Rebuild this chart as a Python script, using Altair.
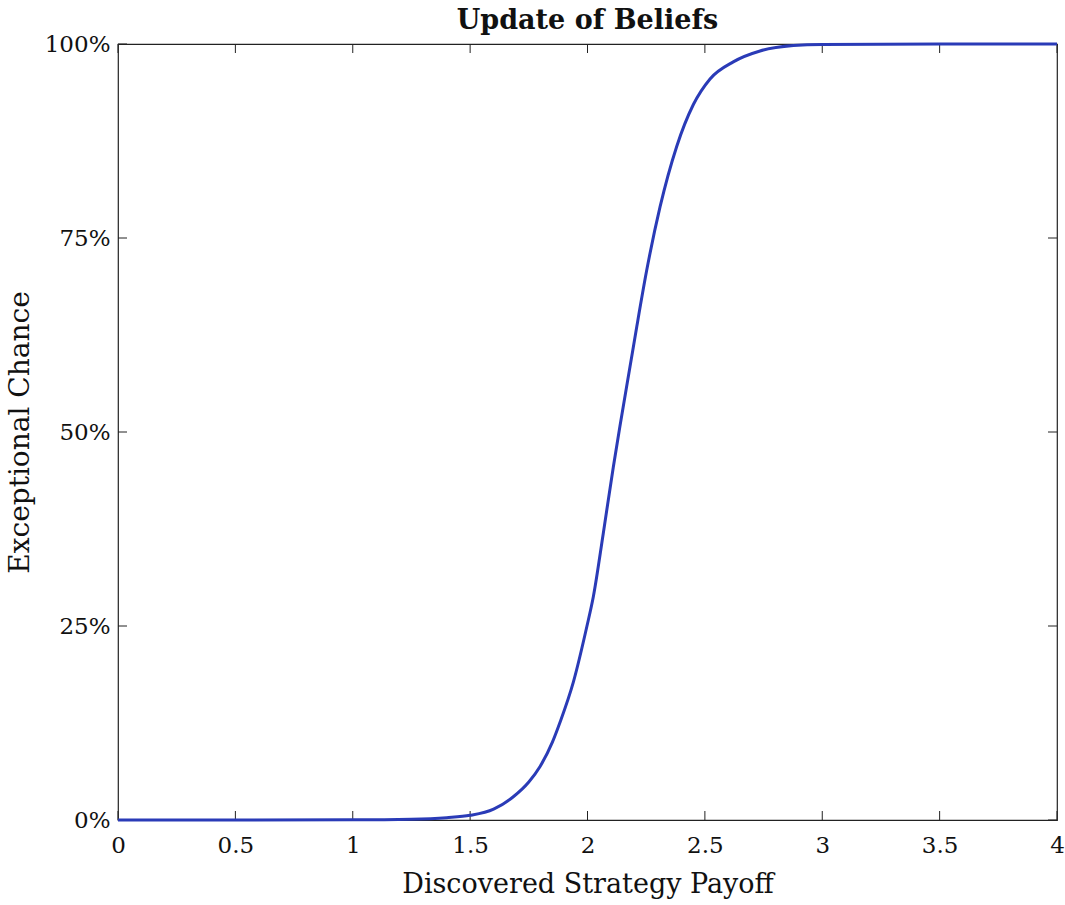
import altair as alt
import pandas as pd

# Curve
payoff = [0.0, 0.5, 1.0, 1.25, 1.4, 1.5, 1.6, 1.684, 1.75, 1.798, 1.85, 1.883,
          1.94, 1.997, 2.025, 2.067, 2.11, 2.138, 2.181, 2.21, 2.252, 2.309,
          2.38, 2.451, 2.522, 2.621, 2.735, 2.877, 3.0, 3.5, 4.0]
chance_pct = [0.0, 0.0, 0.02, 0.1, 0.3, 0.6, 1.4, 3.0, 4.9, 6.9, 10.0, 12.6,
              17.8, 24.9, 28.8, 36.9, 45.5, 50.7, 58.4, 63.6, 70.8, 79.0,
              86.8, 92.2, 95.5, 97.7, 99.1, 99.8, 99.95, 100.0, 100.0]

x_ticks = [0, 0.5, 1, 1.5, 2, 2.5, 3, 3.5, 4]
y_ticks = [0, 0.25, 0.5, 0.75, 1.0]

W, H = 939, 776
FONT = "DejaVu Serif"
TICK_LEN = 9
FRAME = "#222222"

df = pd.DataFrame({"x": payoff, "y": [v / 100 for v in chance_pct]})
xt = pd.DataFrame({"t": x_ticks})
yt = pd.DataFrame({"t": y_ticks})

xscale = alt.Scale(domain=[0, 4], nice=False, zero=False)
yscale = alt.Scale(domain=[0, 1], nice=False)

line = alt.Chart(df).mark_line(color="#2a3bb7", strokeWidth=3, interpolate="monotone").encode(
    x=alt.X("x:Q", scale=xscale,
            axis=alt.Axis(values=x_ticks, format="~g", title="Discovered Strategy Payoff",
                          grid=False, ticks=False, domain=False, labelPadding=14,
                          labelFontSize=23, titleFontSize=27, titlePadding=14,
                          labelFont=FONT, titleFont=FONT, titleFontWeight="normal",
                          labelColor="#111", titleColor="#111", labelFlush=False)),
    y=alt.Y("y:Q", scale=yscale,
            axis=alt.Axis(values=y_ticks, format=".0%", title="Exceptional Chance",
                          grid=False, ticks=False, domain=False, labelPadding=8,
                          labelFontSize=23, titleFontSize=28, titlePadding=10,
                          labelFont=FONT, titleFont=FONT, titleFontWeight="normal",
                          labelColor="#111", titleColor="#111", labelFlush=False)),
)

bottom_ticks = alt.Chart(xt).mark_rule(color=FRAME, strokeWidth=1).encode(
    x=alt.X("t:Q", scale=xscale), y=alt.value(H), y2=alt.value(H - TICK_LEN))
top_ticks = alt.Chart(xt).mark_rule(color=FRAME, strokeWidth=1).encode(
    x=alt.X("t:Q", scale=xscale), y=alt.value(0), y2=alt.value(TICK_LEN))
left_ticks = alt.Chart(yt).mark_rule(color=FRAME, strokeWidth=1).encode(
    y=alt.Y("t:Q", scale=yscale), x=alt.value(0), x2=alt.value(TICK_LEN))
right_ticks = alt.Chart(yt).mark_rule(color=FRAME, strokeWidth=1).encode(
    y=alt.Y("t:Q", scale=yscale), x=alt.value(W), x2=alt.value(W - TICK_LEN))

chart = alt.layer(bottom_ticks, top_ticks, left_ticks, right_ticks, line).properties(
    width=W, height=H,
    background="white",
    title=alt.TitleParams("Update of Beliefs", font=FONT, fontSize=27, fontWeight="bold",
                          anchor="middle", offset=-2, color="#111"),
    autosize=alt.AutoSizeParams(type="none"),
    padding={"left": 118, "top": 44, "right": 8, "bottom": 85},
).configure_view(stroke=FRAME, strokeWidth=1.2)

chart.save("out.html", embed_options={"renderer": "svg", "actions": False})
